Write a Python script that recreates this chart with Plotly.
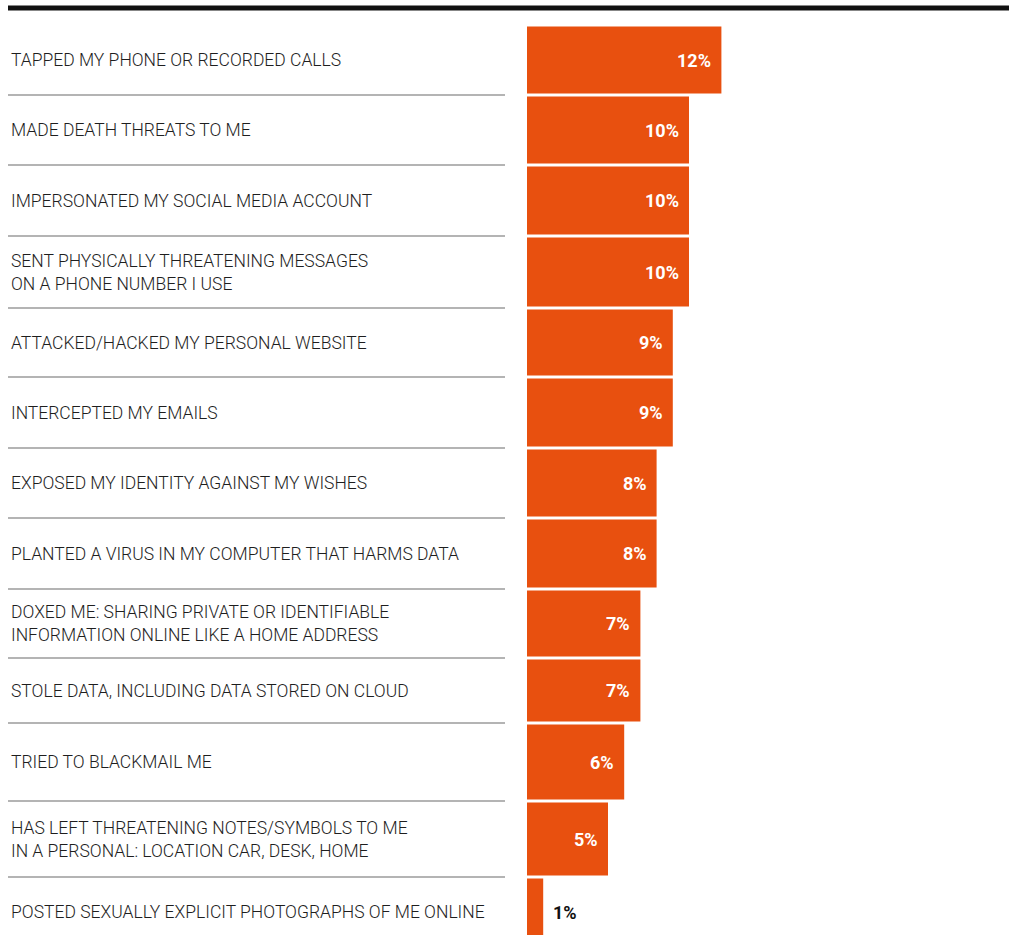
import plotly.graph_objects as go

# Forms of digital attack reported, share of respondents (%)
categories = [
    "TAPPED MY PHONE OR RECORDED CALLS",
    "MADE DEATH THREATS TO ME",
    "IMPERSONATED MY SOCIAL MEDIA ACCOUNT",
    "SENT PHYSICALLY THREATENING MESSAGES<br>ON A PHONE NUMBER I USE",
    "ATTACKED/HACKED MY PERSONAL WEBSITE",
    "INTERCEPTED MY EMAILS",
    "EXPOSED MY IDENTITY AGAINST MY WISHES",
    "PLANTED A VIRUS IN MY COMPUTER THAT HARMS DATA",
    "DOXED ME: SHARING PRIVATE OR IDENTIFIABLE<br>INFORMATION ONLINE LIKE A HOME ADDRESS",
    "STOLE DATA, INCLUDING DATA STORED ON CLOUD",
    "TRIED TO BLACKMAIL ME",
    "HAS LEFT THREATENING NOTES/SYMBOLS TO ME<br>IN A PERSONAL: LOCATION CAR, DESK, HOME",
    "POSTED SEXUALLY EXPLICIT PHOTOGRAPHS OF ME ONLINE",
]
values = [12, 10, 10, 10, 9, 9, 8, 8, 7, 7, 6, 5, 1]
value_labels = [f"{v}%" for v in values]

W, H = 1009, 935
BAR_COLOR = "#E8500F"
TEXT_COLOR = "#1e1e1e"
LABEL_FONT = "Roboto"

# row band edges in page pixels (the y axis runs in pixels, top to bottom)
ROW_EDGES = [25, 95, 165, 236, 308, 377, 448, 518, 589, 658, 723, 801, 877, 947]
row_mid = [(a + b) / 2 for a, b in zip(ROW_EDGES[:-1], ROW_EDGES[1:])]
row_h = [b - a - 3 for a, b in zip(ROW_EDGES[:-1], ROW_EDGES[1:])]

fig = go.Figure(
    go.Bar(
        x=values,
        y=row_mid,
        width=row_h,
        orientation="h",
        marker=dict(color=BAR_COLOR, line=dict(width=0)),
        hoverinfo="skip",
    )
)

annotations = []
for i, (cat, v, lab) in enumerate(zip(categories, values, value_labels)):
    # category label, left aligned
    annotations.append(dict(
        x=9 / W, xref="paper", xanchor="left",
        y=row_mid[i], yref="y", yanchor="middle",
        text=cat, showarrow=False, align="left",
        font=dict(family=LABEL_FONT, size=17.5, color=TEXT_COLOR, weight=300),
    ))
    # value label: inside the bar end, or just outside for short bars
    inside = v >= 3
    annotations.append(dict(
        x=v, xref="x", y=row_mid[i], yref="y",
        xanchor="right" if inside else "left",
        xshift=-8 if inside else 8,
        yanchor="middle",
        text=lab, showarrow=False,
        font=dict(family=LABEL_FONT, size=18, weight=700,
                  color="white" if inside else "#111111"),
    ))

shapes = []
# heavy rule across the top
shapes.append(dict(type="line", xref="paper", yref="paper",
                   x0=8 / W, x1=1, y0=1 - 8 / H, y1=1 - 8 / H,
                   line=dict(color="#111111", width=5)))
# thin separators between rows, under the label column
for e in ROW_EDGES[1:-1]:
    shapes.append(dict(type="line", xref="paper", yref="y",
                       x0=8 / W, x1=505 / W, y0=e, y1=e,
                       line=dict(color="#b4b4b4", width=2)))

px_per_unit = 16.2
x_left = 527
fig.update_layout(
    width=W, height=H,
    margin=dict(l=0, r=0, t=0, b=0),
    paper_bgcolor="white", plot_bgcolor="white",
    showlegend=False,
    xaxis=dict(domain=[x_left / W, 1], range=[0, (W - x_left) / px_per_unit],
               visible=False, fixedrange=True),
    yaxis=dict(domain=[0, 1], range=[H, 0],
               visible=False, fixedrange=True),
    annotations=annotations,
    shapes=shapes,
)

fig.write_html("out.html", config={"displayModeBar": False})
